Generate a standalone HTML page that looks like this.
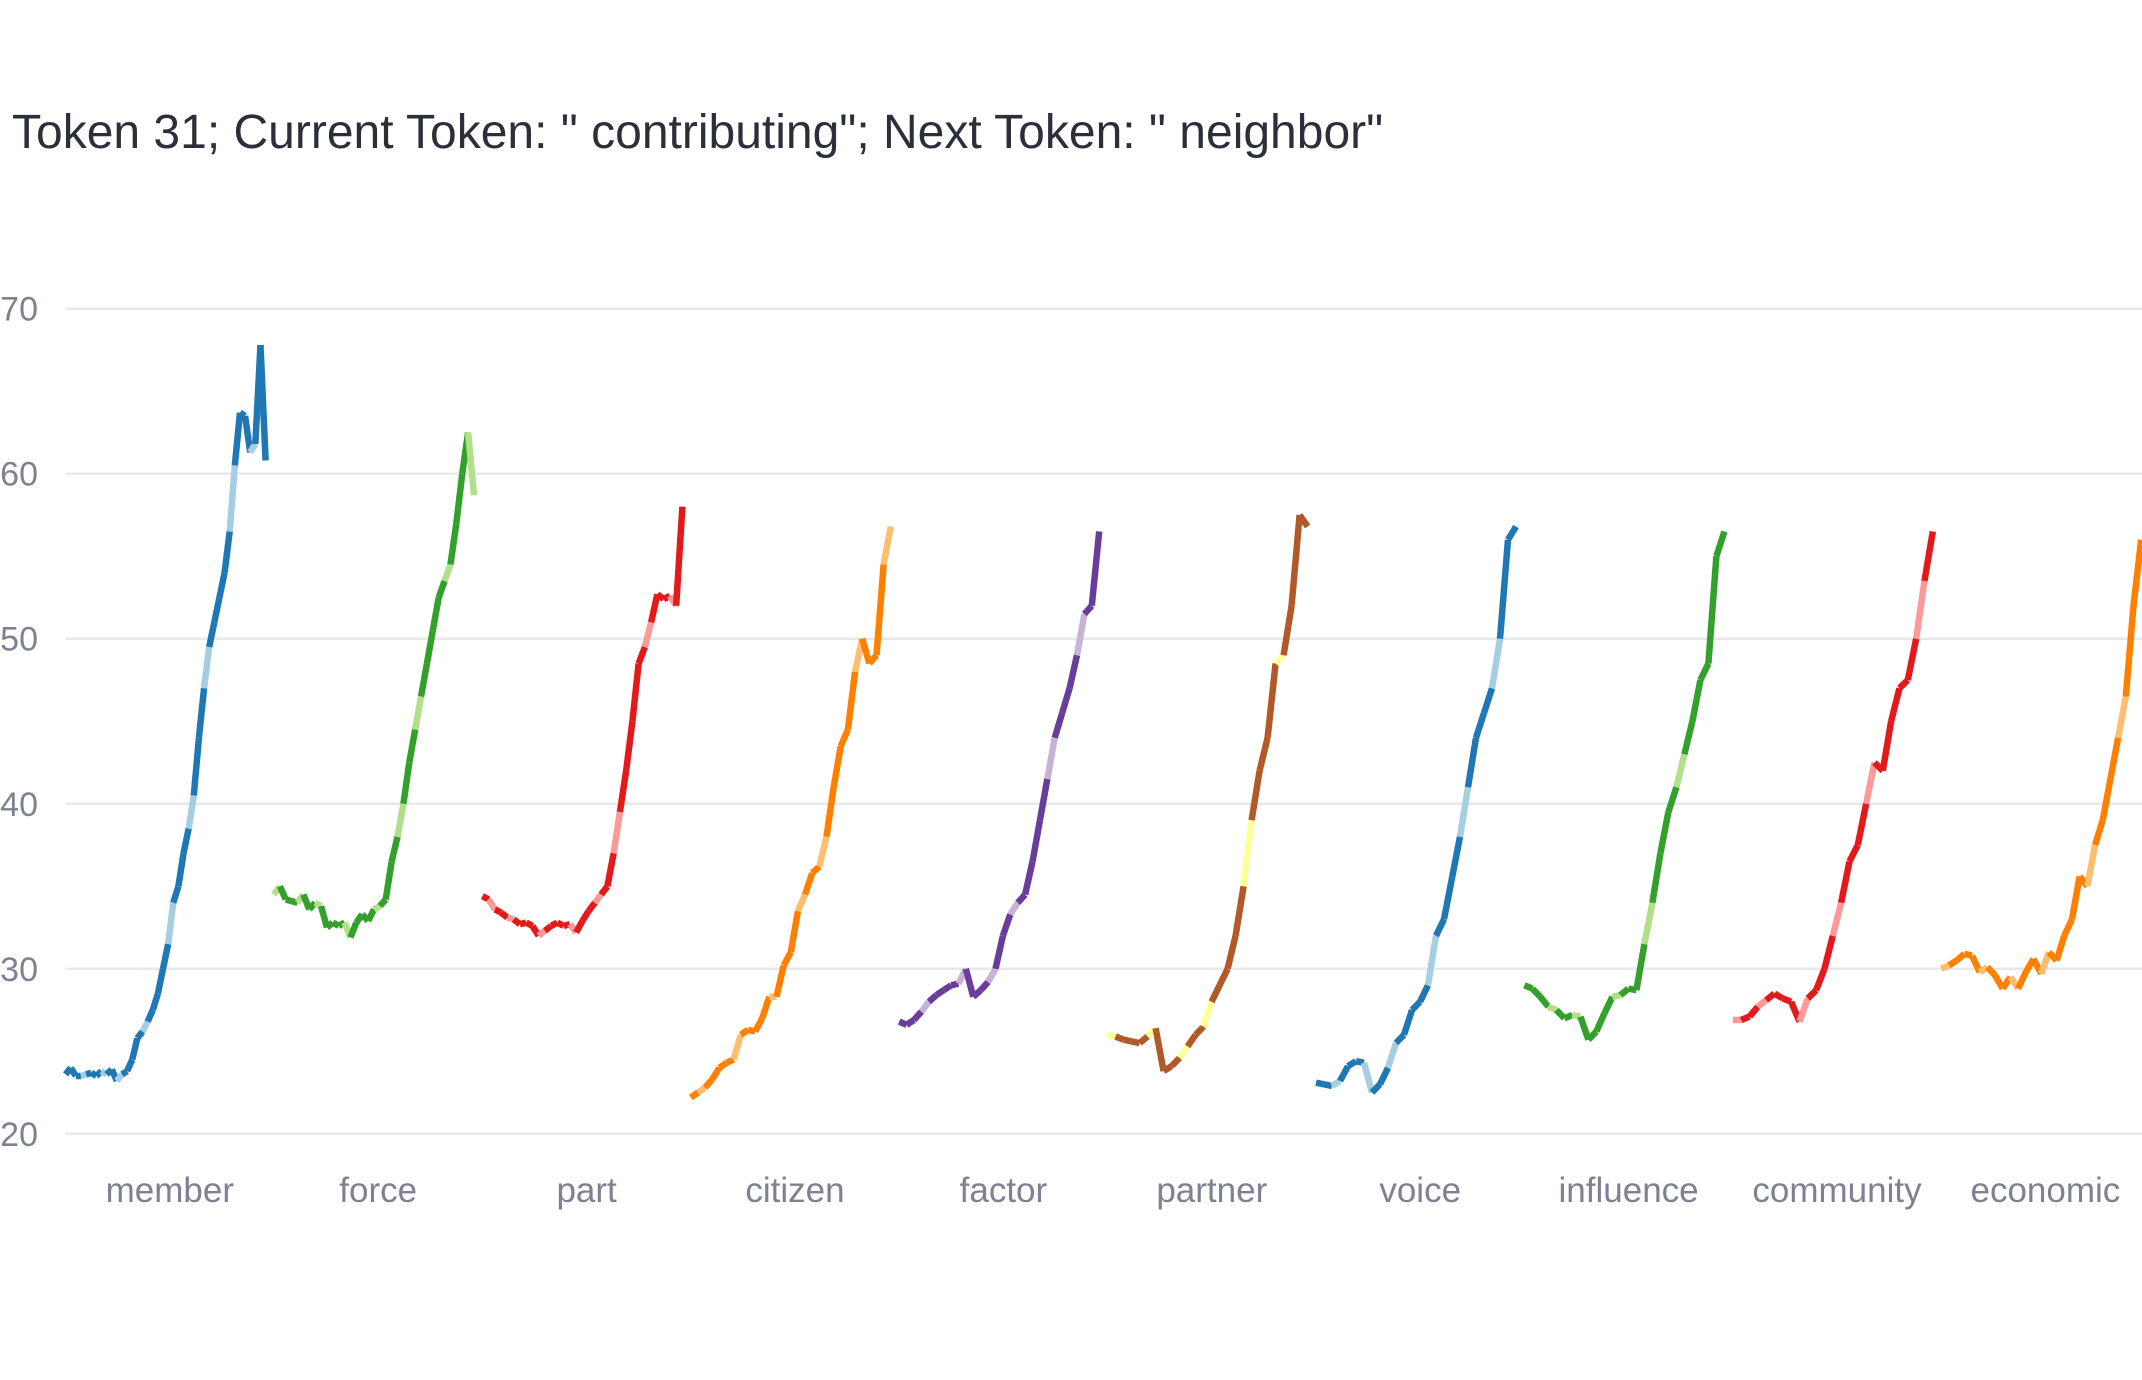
<!DOCTYPE html>
<html><head><meta charset="utf-8"><style>
html,body{margin:0;padding:0;background:#fff;}
svg{display:block;}
text{font-family:"Liberation Sans",Arial,sans-serif;}
</style></head><body>
<svg id="chart" width="2142" height="1380" viewBox="0 0 2142 1380">
<text x="12" y="148" font-size="48" fill="#2a2f3a">Token 31; Current Token: " contributing"; Next Token: " neighbor"</text>
<g id="grid"></g>
<g id="yticks"></g>
<g id="xticks"></g>
<g id="series"></g>
</svg>
<script>
const categories = ["member","force","part","citizen","factor","partner","voice","influence","community","economic"];
const yTicks = [20,30,40,50,60,70];
const sMember = [23.6,24,23.5,23.5,23.6,23.7,23.5,23.8,23.6,23.9,23.2,23.6,23.8,24.5,25.8,26.2,26.8,27.5,28.5,30,31.5,34,35,37,38.5,40.5,44,47,49.5,51,52.5,54,56.5,60.5,63.7,63.5,61.3,61.8,67.8,60.8];
const sForce = [34.5,35,34.2,34.1,34,34.5,33.6,34,33.8,32.5,32.8,32.6,32.8,31.9,32.8,33.3,32.9,33.6,33.8,34.2,36.5,38,40,42.5,44.5,46.5,48.5,50.5,52.5,53.5,54.5,57,60,62.5,58.7];
const sPart = [34.4,34.2,33.6,33.4,33.1,33,32.7,32.8,32.6,32,32.3,32.6,32.8,32.6,32.7,32.2,32.9,33.5,34,34.5,35,37,39.5,42,45,48.5,49.5,51,52.7,52.4,52.6,52,58];
const sCitizen = [22.2,22.5,22.8,23.3,24,24.3,24.5,26,26.3,26.2,27,28.3,28.3,30.2,31,33.5,34.5,35.8,36.2,38,41,43.5,44.5,48,50,48.5,49,54.5,56.8];
const sFactor = [26.8,26.6,26.9,27.4,28,28.4,28.7,29,29.1,30,28.3,28.7,29.2,30,32,33.3,34,34.5,36.5,39,41.5,44,45.5,47,49,51.5,52,56.5];
const sPartner = [26,25.9,25.7,25.6,25.5,25.9,26.4,23.8,24.1,24.6,25.3,26,26.5,28,29,30,32,35,39,42,44,48.5,49,52,57.5,56.8];
const sVoice = [23.1,23,22.9,23.2,24.1,24.4,24.3,22.5,23,24,25.5,26,27.5,28,29,32,33,35.5,38,41,44,45.5,47,50,56,56.8];
const sInfluence = [29,28.8,28.3,27.7,27.5,27,27.2,27.1,25.7,26.2,27.3,28.3,28.4,28.8,28.7,31.5,34,37,39.5,41,43,45,47.5,48.5,55,56.5];
const sCommunity = [26.9,26.9,27.1,27.7,28.1,28.5,28.2,28,26.8,28.2,28.7,30,32,34,36.5,37.5,40,42.5,42,45,47,47.5,50,53.5,56.5];
const sEconomic = [30,30.2,30.5,30.9,30.8,29.8,30.1,29.6,28.8,29.5,28.8,29.8,30.6,29.7,31,30.5,32,33,35.6,35,37.5,39,41.5,44,46.5,52,56];
const seriesList = [sMember,sForce,sPart,sCitizen,sFactor,sPartner,sVoice,sInfluence,sCommunity,sEconomic];
const shadePattern = "0001000100100001000010001001000010001000100";
const palette = [["#1f78b4","#a6cee3"],["#33a02c","#b2df8a"],["#e31a1c","#fb9a99"],["#ff7f00","#fdbf6f"],["#6a3d9a","#cab2d6"],["#b15928","#ffff99"]];

const NS="http://www.w3.org/2000/svg";
const left=65.6, band=208.4, span=200;
const y=v=>1133.8+(v-20)*(308.7-1133.8)/50;
const xOf=(g,i,n)=>left+g*band+span*i/(n-1);
const grid=document.getElementById('grid'), yt=document.getElementById('yticks'), xt=document.getElementById('xticks'), sg=document.getElementById('series');
yTicks.forEach(t=>{
  const l=document.createElementNS(NS,'line');
  l.setAttribute('x1',left);l.setAttribute('x2',2142);l.setAttribute('y1',y(t));l.setAttribute('y2',y(t));
  l.setAttribute('stroke','#e6e8ec');l.setAttribute('stroke-width','2.5');
  
  
  grid.appendChild(l);
  const tx=document.createElementNS(NS,'text');
  tx.setAttribute('x',38);tx.setAttribute('y',y(t)+12);tx.setAttribute('text-anchor','end');
  tx.setAttribute('font-size','34');tx.setAttribute('fill','#7d8190');tx.textContent=t;
  
  
  yt.appendChild(tx);
});
categories.forEach((c,g)=>{
  const tx=document.createElementNS(NS,'text');
  tx.setAttribute('x',left+band*(g+0.5));tx.setAttribute('y',1202);tx.setAttribute('text-anchor','middle');
  tx.setAttribute('font-size','35');tx.setAttribute('fill','#7d8190');tx.textContent=c;
  
  
  xt.appendChild(tx);
  const s=seriesList[g], n=s.length, cols=palette[g%6];
  const grp=document.createElementNS(NS,'g');
  
  
  sg.appendChild(grp);
  for(let i=0;i<n-1;i++){
    const l=document.createElementNS(NS,'line');
    l.setAttribute('x1',xOf(g,i,n));l.setAttribute('y1',y(s[i]));
    l.setAttribute('x2',xOf(g,i+1,n));l.setAttribute('y2',y(s[i+1]));
    const sh=shadePattern[(i+g*3)%shadePattern.length]==='1'?1:0;
    l.setAttribute('stroke',cols[sh]);l.setAttribute('stroke-width','6.5');
    
    
    grp.appendChild(l);
  }
});
</script>
</body></html>
